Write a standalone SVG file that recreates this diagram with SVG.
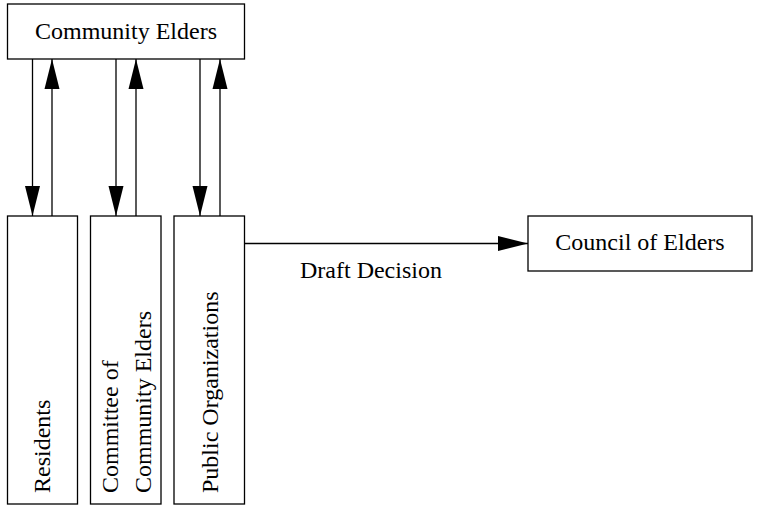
<svg xmlns="http://www.w3.org/2000/svg" width="766" height="505" viewBox="0 0 766 505">
<style>
.box{fill:#fff;stroke:#000;stroke-width:1.3}
.edge{stroke:#000;stroke-width:1.3;fill:none}
.t{font-family:"Liberation Serif",serif;font-size:24px;fill:#000}
</style>
<defs>
<marker id="ah" markerUnits="userSpaceOnUse" markerWidth="30" markerHeight="16" refX="30" refY="8" orient="auto" viewBox="0 0 30 16">
<path d="M0,0.5 L30,8 L0,15.5 Z" fill="#000"/>
</marker>
</defs>
<rect width="766" height="505" fill="#fff"/>
<g id="community-elders">
<rect class="box" x="7.5" y="4" width="237" height="55"/>
<text class="t" x="126" y="39" text-anchor="middle">Community Elders</text>
</g>
<g id="residents">
<rect class="box" x="7.5" y="216" width="70" height="288"/>
<text class="t" transform="translate(50,493) rotate(-90)">Residents</text>
</g>
<g id="committee">
<rect class="box" x="90.5" y="216" width="70.5" height="288"/>
<text class="t" transform="translate(118,493) rotate(-90)">Committee of</text>
<text class="t" transform="translate(151,493) rotate(-90)">Community Elders</text>
</g>
<g id="public-organizations">
<rect class="box" x="174" y="216" width="70.5" height="288"/>
<text class="t" transform="translate(218,493) rotate(-90)">Public Organizations</text>
</g>
<g id="council">
<rect class="box" x="528" y="216" width="224" height="55"/>
<text class="t" x="640" y="250" text-anchor="middle">Council of Elders</text>
</g>
<g id="connectors">
<line class="edge" x1="32.5" y1="59" x2="32.5" y2="216" marker-end="url(#ah)"/>
<line class="edge" x1="52" y1="216" x2="52" y2="59" marker-end="url(#ah)"/>
<line class="edge" x1="116" y1="59" x2="116" y2="216" marker-end="url(#ah)"/>
<line class="edge" x1="136" y1="216" x2="136" y2="59" marker-end="url(#ah)"/>
<line class="edge" x1="200" y1="59" x2="200" y2="216" marker-end="url(#ah)"/>
<line class="edge" x1="220" y1="216" x2="220" y2="59" marker-end="url(#ah)"/>
<line class="edge" x1="244.5" y1="243.5" x2="528" y2="243.5" marker-end="url(#ah)"/>
<text class="t" x="300" y="278">Draft Decision</text>
</g>
</svg>
